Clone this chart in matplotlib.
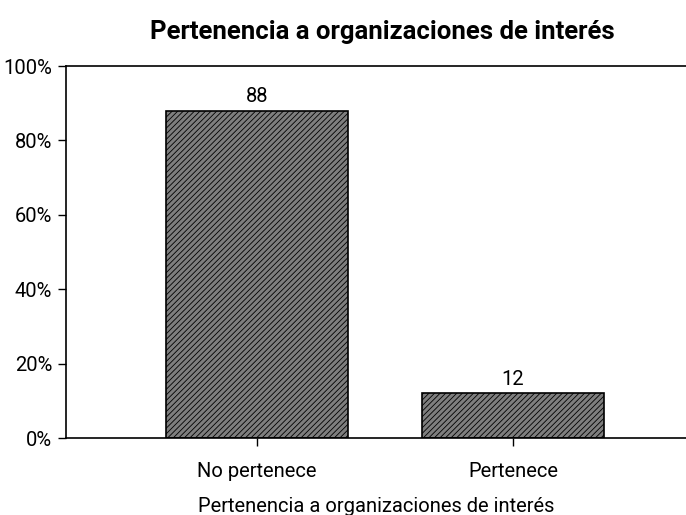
import matplotlib
matplotlib.use('Agg')
import matplotlib.pyplot as plt
from matplotlib.ticker import PercentFormatter

# Dane
kategorie = ['No pertenece', 'Pertenece']
procenty = [88, 12]
etykiety = ['88', '12']

plt.rcParams['font.family'] = ['Roboto', 'DejaVu Sans']
plt.rcParams['hatch.color'] = '#c8c8c8'
plt.rcParams['hatch.linewidth'] = 0.6

fig = plt.figure(figsize=(6.86, 5.15), dpi=100)
ax = fig.add_axes([0.0962, 0.1495, 0.9038, 0.7223])

x = range(len(kategorie))
slupki = ax.bar(x, procenty, width=0.71, color='#7e7e7e', edgecolor='black',
                linewidth=1.2, hatch='//////')

for s, t in zip(slupki, etykiety):
    ax.text(s.get_x() + s.get_width() / 2, s.get_height() + 1.2, t,
            ha='center', va='bottom', fontsize=14.5)

ax.set_xlim(-0.746, 1.676)
ax.set_ylim(0, 100)
ax.set_yticks([0, 20, 40, 60, 80, 100])
ax.yaxis.set_major_formatter(PercentFormatter(decimals=0))
ax.set_xticks(list(x))
ax.set_xticklabels(kategorie)
ax.tick_params(axis='both', labelsize=14.5, length=6, width=1, direction='out')
ax.tick_params(axis='x', pad=11)
ax.tick_params(axis='y', pad=4)

ax.spines['right'].set_visible(False)
for k in ['left', 'top', 'bottom']:
    ax.spines[k].set_linewidth(1.2)

ax.set_xlabel('Pertenencia a organizaciones de interés', fontsize=14.5, labelpad=12)
fig.suptitle('Pertenencia a organizaciones de interés', fontsize=18.5,
             fontweight='bold', x=0.558, y=0.962)

fig.savefig('out.png', dpi=100)
